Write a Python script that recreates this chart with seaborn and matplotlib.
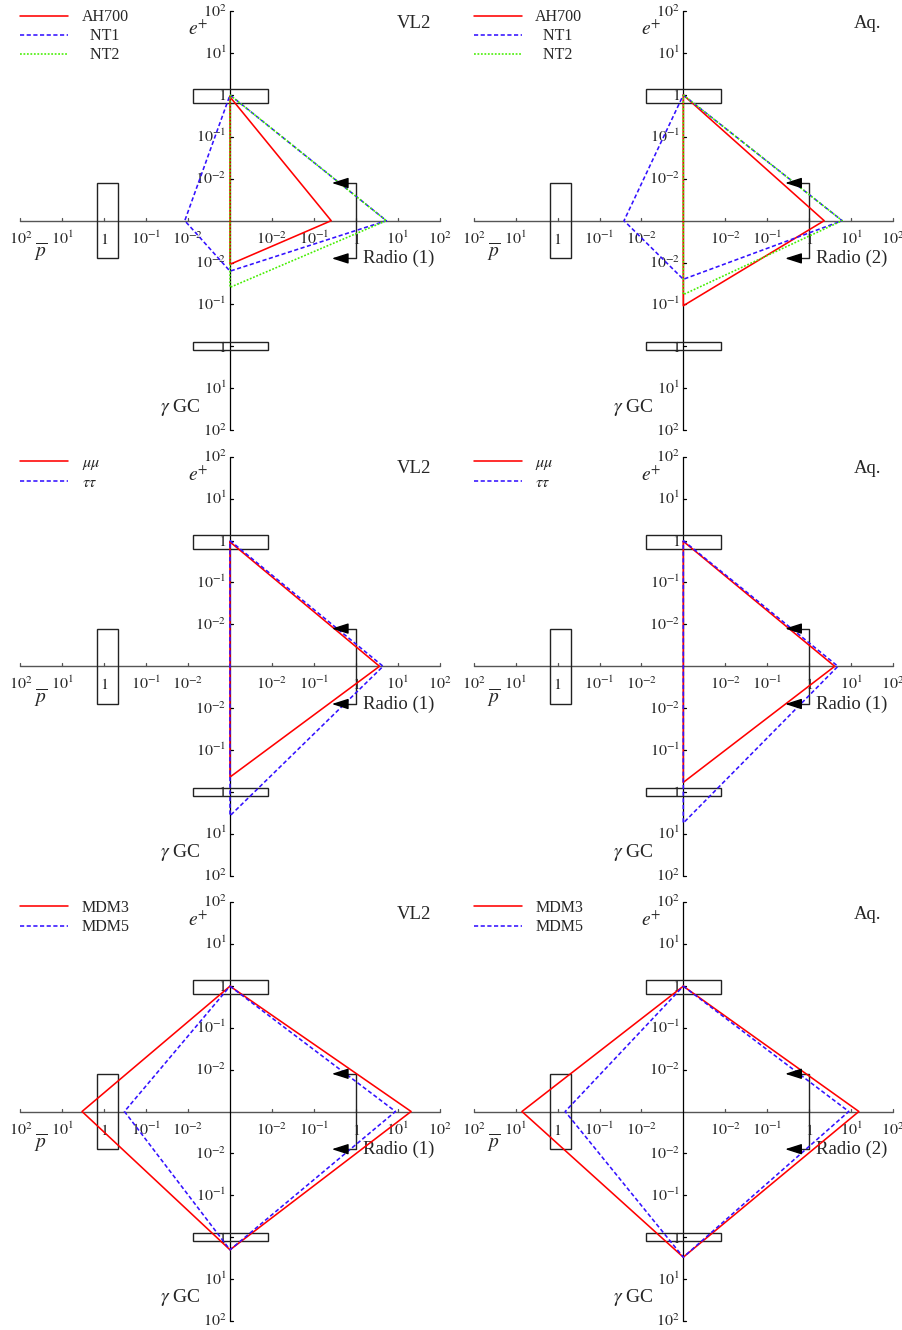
import numpy as np
import matplotlib.pyplot as plt
import seaborn as sns

sns.set_style("white")
plt.rcParams['font.family'] = ['Liberation Serif', 'DejaVu Serif']
plt.rcParams['mathtext.fontset'] = 'stix'
plt.rcParams['lines.scale_dashes'] = False

# each model: [e+, radio, gamma GC, pbar]  (1e-3 = centre of the diagram)
FLOOR = 1e-3

models_ah = ["AH700", "  NT1", "  NT2"]
ah_vl2 = [[0.9, 0.26, 0.011, 1e-3],
          [1.0, 5.4, 0.016, 0.012],
          [1.0, 5.4, 0.039, 1e-3]]
ah_aq = [[1.0, 2.3, 0.107, 1e-3],
         [1.0, 6.2, 0.025, 0.026],
         [1.0, 6.2, 0.058, 1e-3]]

models_lep = [r"$\mu\mu$", r"$\tau\tau$"]
lep_vl2 = [[0.93, 3.7, 0.44, 1e-3],
           [1.0, 4.5, 3.7, 1e-3]]
lep_aq = [[0.96, 4.1, 0.59, 1e-3],
          [1.0, 4.9, 5.5, 1e-3]]

models_mdm = ["MDM3", "MDM5"]
mdm_vl2 = [[0.98, 21.0, 2.0, 3.4],
           [0.98, 8.9, 2.0, 0.33]]
mdm_aq = [[0.98, 15.5, 3.0, 7.1],
          [0.98, 8.9, 3.0, 0.66]]

tick_text = [r"$10^{-2}$", r"$10^{-1}$", r"$1$", r"$10^{1}$", r"$10^{2}$"]

line_styles = [dict(color='#ff0000', linestyle='-'),
               dict(color='#3311ff', linestyle=(0, (3.0, 1.8))),
               dict(color='#44ee00', linestyle=(0, (1.3, 1.2)))]

W, H = 903, 1330
D = 41.9      # pixels per decade
LIM = 5.4


def decades(v):
    return np.log10(np.maximum(np.asarray(v, float), FLOOR)) - np.log10(FLOOR)


def draw_frame(ax, name, radio):
    ax.plot([-5, 5], [0, 0], color='#555555', lw=1.0, zorder=1)
    ax.plot([0, 0], [-5, 5], color='black', lw=0.9, zorder=1)
    tl = 0.07
    for i, pos in enumerate(range(1, 6)):
        for s in (-1, 1):
            ax.plot([s * pos, s * pos], [0, tl], color='#555555', lw=0.9, zorder=1)
            ax.plot([0, tl], [s * pos, s * pos], color='black', lw=0.9, zorder=1)
            ax.text(s * pos, -0.55, tick_text[i], ha='center', va='baseline', fontsize=11.5)
            ax.text(-0.08, s * pos - 0.13, tick_text[i], ha='right', va='baseline', fontsize=11.5)
    # threshold boxes
    box = dict(fill=False, ec='#222222', lw=1.0, zorder=2)
    ax.add_patch(plt.Rectangle((-0.89, 2.81), 1.79, 0.33, **box))
    ax.add_patch(plt.Rectangle((-0.89, -3.09), 1.79, 0.19, **box))
    ax.add_patch(plt.Rectangle((-3.17, -0.9), 0.5, 1.8, **box))
    # radio bracket
    ax.plot([2.72, 3.0, 3.0, 2.72], [0.9, 0.9, -0.9, -0.9], color='#222222', lw=1.0, zorder=2)
    for yy in (0.9, -0.9):
        ax.annotate('', xy=(2.43, yy), xytext=(2.8, yy),
                    arrowprops=dict(arrowstyle='-|>,head_length=1.0,head_width=0.32',
                                    color='black', lw=1.0, shrinkA=0, shrinkB=0,
                                    mutation_scale=10), zorder=4)
    ax.text(-0.76, 4.57, r"$e^{+}$", ha='center', va='center', fontsize=14)
    ax.text(-4.52, -0.75, r"$\overline{p}$", ha='center', va='center', fontsize=14)
    ax.text(-1.19, -4.45, r"$\gamma$ GC", ha='center', va='center', fontsize=14)
    ax.text(3.17, -0.9, radio, ha='left', va='center', fontsize=13.5)
    ax.text(4.4, 4.71, name, ha='center', va='center', fontsize=13.5)


def draw_panel(cx, cy, labels, values, name, radio):
    h = LIM * D
    ax = fig.add_axes([(cx - h) / W, (H - cy - h) / H, 2 * h / W, 2 * h / H])
    ax.set_xlim(-LIM, LIM)
    ax.set_ylim(-LIM, LIM)
    ax.axis('off')
    draw_frame(ax, name, radio)
    handles = []
    for lab, vals, st in zip(labels, values, line_styles):
        d = decades(vals)
        xs = [0, d[1], 0, -d[3], 0]
        ys = [d[0], 0, -d[2], 0, d[0]]
        sns.lineplot(x=xs, y=ys, sort=False, estimator=None, ax=ax, lw=1.15,
                     zorder=3, **st)
        line = ax.lines[-1]
        line.set_label(lab)
        handles.append(line)
    ax.legend(handles=handles, loc='upper left', bbox_to_anchor=(-5.0, 5.05),
              bbox_transform=ax.transData, frameon=False, fontsize=11.5,
              handlelength=3.0, handletextpad=0.85, labelspacing=0.2,
              borderaxespad=0, borderpad=0)
    return ax


fig = plt.figure(figsize=(W / 100, H / 100), dpi=100)
xc = [230, 683.3]
yc = [220.7, 666.3, 1111.5]
draw_panel(xc[0], yc[0], models_ah, ah_vl2, "VL2", "Radio (1)")
draw_panel(xc[1], yc[0], models_ah, ah_aq, "Aq.", "Radio (2)")
draw_panel(xc[0], yc[1], models_lep, lep_vl2, "VL2", "Radio (1)")
draw_panel(xc[1], yc[1], models_lep, lep_aq, "Aq.", "Radio (1)")
draw_panel(xc[0], yc[2], models_mdm, mdm_vl2, "VL2", "Radio (1)")
draw_panel(xc[1], yc[2], models_mdm, mdm_aq, "Aq.", "Radio (2)")

fig.savefig("out.png", dpi=100)
